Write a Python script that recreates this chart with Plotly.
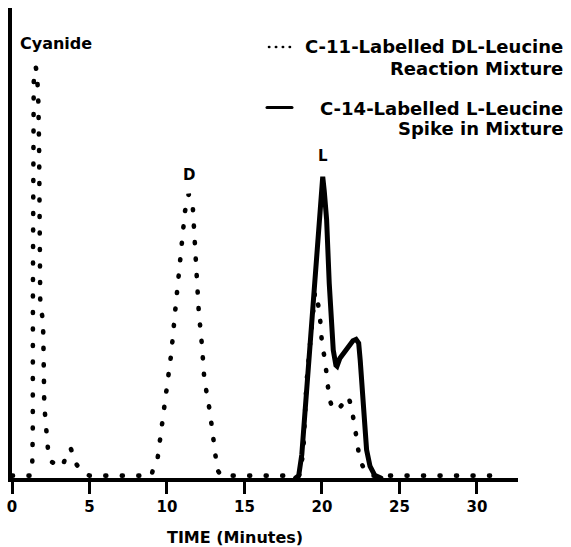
import plotly.graph_objects as go

# ---- data ----
# C-11-labelled DL-leucine reaction mixture (dotted trace)
c11_time = [0.0, 1.2, 1.30, 1.34, 1.35, 1.36, 1.40, 1.46, 1.53, 1.62, 1.70, 1.75, 1.77, 1.79, 1.82,
            1.92, 2.00, 2.03, 2.05, 2.08, 2.15, 2.22, 2.32, 2.47, 2.82, 3.25, 3.45, 3.65, 3.80, 4.02,
            4.18, 4.56, 5.0, 9.0, 9.1, 9.4, 9.66, 9.94, 10.28, 10.52, 10.77, 10.99, 11.16, 11.4,
            11.66, 11.76, 11.92, 12.05, 12.26, 12.41, 12.77, 12.99, 13.1, 13.25, 13.5, 18.5, 18.6,
            18.8, 19.0, 19.23, 19.4, 19.55, 19.75, 19.87, 19.92, 20.0, 20.2, 20.3, 20.4, 20.47,
            20.7, 21.05, 21.4, 21.7, 21.9, 22.06, 22.2, 22.3, 22.4, 22.66, 23.1, 30.9]
c11_value = [0.5, 0.5, 1.5, 10, 40, 70, 84, 87, 87.5, 86, 80, 70, 55, 42, 38,
             35, 33.5, 28, 21, 16, 12.7, 9.5, 6.2, 3.7, 2.8, 2.4, 4.2, 6.2, 6.2, 4.5,
             2.8, 1.3, 0.5, 0.5, 1.9, 4.3, 11, 18, 26.6, 35.2, 43.3, 51.3, 56.7, 60.4,
             58, 52.2, 42.6, 35.5, 28.1, 21, 14.1, 7.7, 4.5, 1.7, 0.5, 0.5, 1,
             6, 20.2, 27.2, 34.3, 39.6, 37, 34.3, 31, 28.7, 25, 22, 19.4, 17,
             14.6, 14.6, 16, 17.3, 15.2, 12.5, 10, 7.2, 4.4, 2.3, 0.5, 0.5]

# C-14-labelled L-leucine spike in mixture (solid trace)
c14_time = [18.3, 18.5, 18.7, 19.0, 19.2, 19.44, 19.7, 19.95, 20.05, 20.15, 20.3, 20.47, 20.73,
            20.9, 20.97, 21.16, 21.6, 22.0, 22.2, 22.37, 22.47, 22.56, 22.67, 22.88, 23.1, 23.4, 23.8]
c14_value = [0, 0.5, 5, 18, 27.5, 40, 51, 62, 64.1, 61, 55, 41.4, 27.2,
             24, 23.8, 25.5, 27.6, 29.2, 29.5, 28.7, 25, 20.2, 13, 6, 2.5, 0.6, 0]

x_ticks = [0, 5, 10, 15, 20, 25, 30]
peak_labels = ["Cyanide", "D", "L"]
peak_label_time = [2.85, 11.4, 20.05]
peak_label_value = [92.5, 64.5, 68.5]

legend_lines = ["C-11-Labelled DL-Leucine", "Reaction Mixture",
                "C-14-Labelled L-Leucine", "Spike in Mixture"]

FONT = "DejaVu Sans"

fig = go.Figure()
fig.add_trace(go.Scatter(x=c11_time, y=c11_value, mode="lines",
                         line=dict(color="black", width=4.6, dash="1px,15.5px"),
                         name=legend_lines[0], showlegend=False, cliponaxis=False))
fig.add_trace(go.Scatter(x=c14_time, y=c14_value, mode="lines",
                         line=dict(color="black", width=5),
                         name=legend_lines[2], showlegend=False, cliponaxis=False))

for txt, tx, ty in zip(peak_labels, peak_label_time, peak_label_value):
    fig.add_annotation(x=tx, y=ty, text=txt, showarrow=False, xref="x", yref="y",
                       font=dict(family=FONT, size=16 if txt == "Cyanide" else 15,
                                 color="black", weight="bold"))

W, H = 571, 547
L_, R_, T_, B_ = 12, 53, 8, 69
pw, ph = W - L_ - R_, H - T_ - B_

def px(x):
    return (x - L_) / pw

def py(y):
    return (H - B_ - y) / ph

# legend text
legend_y = [46.7, 68.3, 108.3, 128.3]
for txt, yy in zip(legend_lines, legend_y):
    fig.add_annotation(x=px(565), y=py(yy), xref="paper", yref="paper", text=txt,
                       showarrow=False, xanchor="right", yanchor="middle",
                       font=dict(family=FONT, size=18, color="black", weight="bold"))
# legend samples
fig.add_shape(type="line", xref="paper", yref="paper", x0=px(269), x1=px(291), y0=py(47), y1=py(47),
              line=dict(color="black", width=2.6, dash="0.3px,6.6px"))
fig.add_shape(type="line", xref="paper", yref="paper", x0=px(267), x1=px(292), y0=py(107.5), y1=py(107.5),
              line=dict(color="black", width=3))

# axis title
fig.add_annotation(x=px(235), y=py(537), xref="paper", yref="paper", text="TIME (Minutes)",
                   showarrow=False, xanchor="center", yanchor="middle",
                   font=dict(family=FONT, size=16, color="black", weight="bold"))

fig.update_layout(
    width=W, height=H,
    margin=dict(l=L_, r=R_, t=T_, b=B_, pad=0),
    paper_bgcolor="white", plot_bgcolor="white",
    showlegend=False,
    xaxis=dict(range=[0, 32.65], showgrid=False, zeroline=False,
               showline=True, linecolor="black", linewidth=4,
               tickvals=x_ticks, ticktext=[str(v) for v in x_ticks],
               ticks="outside", ticklen=12, tickwidth=3, tickcolor="black",
               tickfont=dict(family=FONT, size=15, color="black", weight="bold")),
    yaxis=dict(range=[0, 100], showgrid=False, zeroline=False,
               showline=True, linecolor="black", linewidth=4,
               showticklabels=False, ticks=""),
)

post = (
    "document.body.style.margin='0';"
    "document.body.style.overflow='hidden';"
    "document.querySelectorAll('.scatterlayer path.js-line').forEach(function(p){"
    "p.style.strokeLinecap='round';});"
    "document.querySelectorAll('.layer-above path, .shapelayer path').forEach(function(p){"
    "p.style.strokeLinecap='round';});"
)
fig.write_html("out.html", config={"displayModeBar": False}, post_script=post)
